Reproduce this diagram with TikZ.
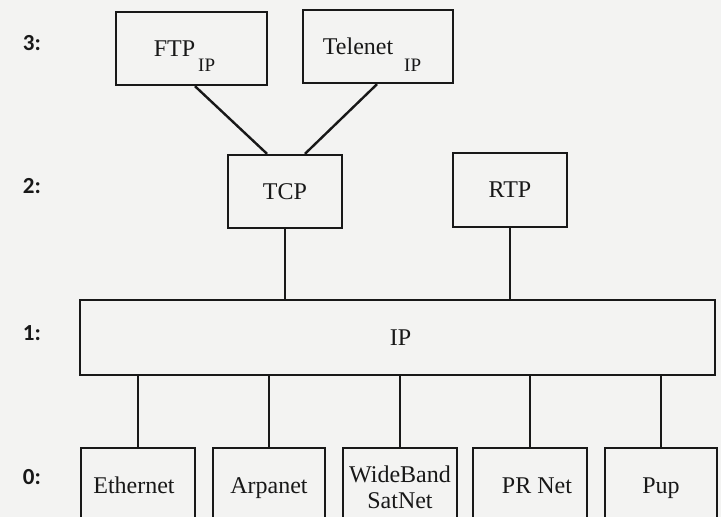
\documentclass[tikz,border=0pt]{standalone}
\usepackage{fontspec}
\setmainfont{Liberation Serif}
\newfontfamily\layerfont{Carlito}
\definecolor{bgcol}{RGB}{243,243,242}
\definecolor{inkcol}{RGB}{24,24,24}
\begin{document}
\begin{tikzpicture}[x=1pt,y=-1pt,
  box/.style={draw=inkcol,line width=2.4pt,inner sep=0pt,text=inkcol,
    font=\fontsize{24}{26}\selectfont,align=center},
  netbox/.style={box,minimum height=78pt,text height=17pt,text depth=5pt},
  conn/.style={draw=inkcol,line width=2.4pt},
  layer/.style={text=inkcol,font=\layerfont\bfseries\fontsize{23}{25}\selectfont}]
\useasboundingbox (0,0) rectangle (721,517);
\fill[bgcol] (0,0) rectangle (721,517);
\clip (0,0) rectangle (721,517);
% layer labels
\node[layer] (l3) at (32,43) {3:};
\node[layer] (l2) at (32,186) {2:};
\node[layer] (l1) at (32,333) {1:};
\node[layer] (l0) at (32,477) {0:};
% layer 3
\node[box,minimum width=151pt,minimum height=73pt] (ftp) at (191.5,48.5)
  {\kern-4pt FTP\kern3pt\raisebox{-15pt}[0pt][0pt]{\fontsize{19}{20}\selectfont IP}\kern10pt};
\node[box,minimum width=150pt,minimum height=73pt] (tel) at (378,46.5)
  {Telenet\kern11pt\raisebox{-17pt}[0pt][0pt]{\fontsize{19}{20}\selectfont IP}\kern12pt};
% layer 2
\node[box,minimum width=114pt,minimum height=73pt] (tcp) at (285,191.5) {TCP};
\node[box,minimum width=114pt,minimum height=74pt] (rtp) at (510,190) {RTP};
% layer 1
\node[box,minimum width=635pt,minimum height=75pt] (ip) at (397.5,337.5) {\kern6pt IP};
% layer 0
\node[netbox,minimum width=114pt] (eth) at (138,487) {Ethernet\kern8pt};
\node[netbox,minimum width=112pt] (arp) at (269,487) {Arpanet};
\node[box,minimum width=114pt,minimum height=78pt] (wb) at (400,487) {WideBand\\SatNet};
\node[netbox,minimum width=114pt] (prn) at (530,487) {\kern14pt PR Net};
\node[netbox,minimum width=112pt] (pup) at (661,487) {Pup};
% connectors
\draw[conn] ([xshift=3.5pt]ftp.south) -- ([xshift=-18pt]tcp.north);
\draw[conn] ([xshift=-1pt]tel.south) -- ([xshift=20pt]tcp.north);
\draw[conn] (tcp.south) -- (tcp.south |- ip.north);
\draw[conn] (rtp.south) -- (rtp.south |- ip.north);
\draw[conn] (ip.south -| eth.north) -- (eth.north);
\draw[conn] (ip.south -| arp.north) -- (arp.north);
\draw[conn] (ip.south -| wb.north) -- (wb.north);
\draw[conn] (ip.south -| prn.north) -- (prn.north);
\draw[conn] (ip.south -| pup.north) -- (pup.north);
\end{tikzpicture}
\end{document}
